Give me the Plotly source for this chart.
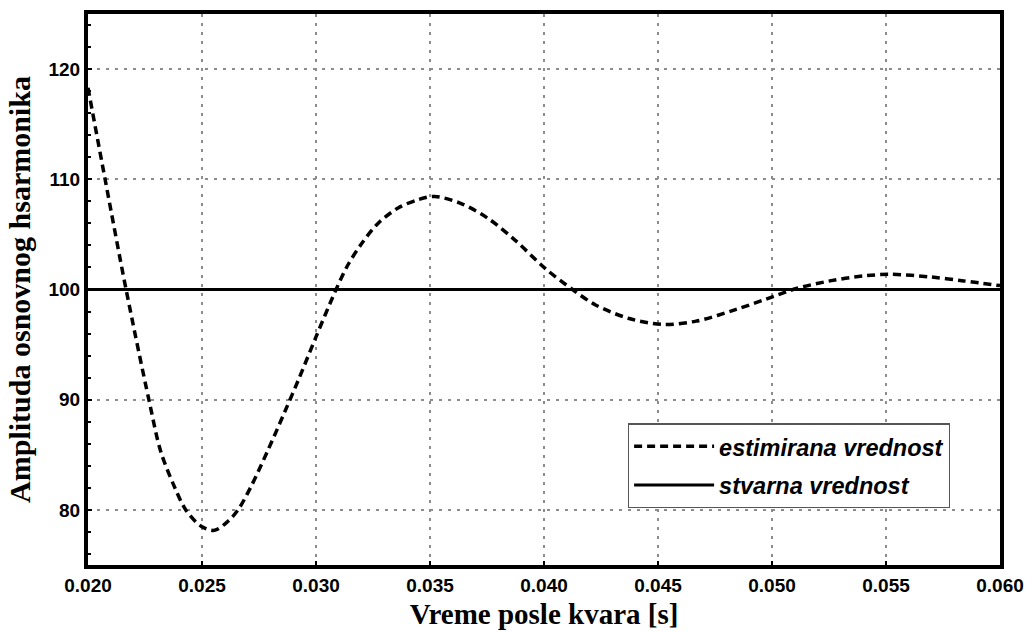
import plotly.graph_objects as go

# Estimated amplitude of the fundamental harmonic
t_est = [0.0200, 0.02075, 0.02167, 0.02267, 0.02319, 0.02377, 0.02429, 0.02496,
         0.02555, 0.02614, 0.02658, 0.02717, 0.02791, 0.02864, 0.02923, 0.0300,
         0.03088, 0.03139, 0.03198, 0.03272, 0.0336, 0.03448, 0.03521, 0.03639,
         0.03756, 0.03874, 0.04006, 0.04125, 0.04226, 0.04373, 0.0452, 0.04667,
         0.04843, 0.0501, 0.05107, 0.05254, 0.05401, 0.05518, 0.05695, 0.05841,
         0.0600]
a_est = [118.3, 110.0, 100.0, 90.0, 85.3, 82.2, 80.0, 78.52,
         78.15, 78.97, 80.0, 82.2, 85.5, 88.95, 91.8, 95.7,
         100.0, 102.2, 104.1, 106.0, 107.4, 108.15, 108.44, 107.78,
         106.43, 104.46, 101.9, 100.0, 98.6, 97.37, 96.83, 97.13,
         98.19, 99.39, 100.09, 100.78, 101.23, 101.38, 101.14, 100.78,
         100.35]

# True value
t_true = [0.020, 0.060]
a_true = [100, 100]

x_ticks = [0.020, 0.025, 0.030, 0.035, 0.040, 0.045, 0.050, 0.055, 0.060]
x_ticklabels = ["0.020", "0.025", "0.030", "0.035", "0.040", "0.045", "0.050", "0.055", "0.060"]
y_ticks = [80, 90, 100, 110, 120]

fig = go.Figure()
fig.add_trace(go.Scatter(
    x=t_true, y=a_true, mode="lines", name="stvarna vrednost",
    legendgroup="b", legendrank=2,
    line=dict(color="black", width=3)))
fig.add_trace(go.Scatter(
    x=t_est, y=a_est, mode="lines", name="estimirana vrednost",
    legendgroup="a", legendrank=1,
    line=dict(color="black", width=3.5, dash="8px,5px", shape="spline", smoothing=0.9)))

axis_common = dict(
    showline=True, linecolor="black", linewidth=4, mirror=True,
    showgrid=True, gridcolor="#8c8c8c", gridwidth=1.5, griddash="3px,6px",
    zeroline=False, ticks="inside", ticklen=4, tickwidth=2, tickcolor="black",
    automargin=False,
    tickfont=dict(family="Liberation Sans", size=19, color="black", weight="bold"),
)

fig.update_xaxes(
    range=[0.020, 0.060], tickvals=x_ticks, ticktext=x_ticklabels,
    title=dict(text="Vreme posle kvara [s]", standoff=10,
               font=dict(family="Liberation Serif", size=29, color="black", weight="bold")),
    **axis_common)
fig.update_yaxes(
    range=[75, 125], tickvals=y_ticks,
    minor=dict(dtick=2, ticks="inside", ticklen=3, tickwidth=2, tickcolor="black", showgrid=False),
    title=dict(text="Amplituda osnovnog hsarmonika", standoff=10,
               font=dict(family="Liberation Serif", size=30, color="black", weight="bold")),
    **axis_common)

fig.update_layout(
    width=1028, height=632,
    margin=dict(l=88, r=28, t=14, b=67),
    paper_bgcolor="white", plot_bgcolor="white",
    showlegend=True,
    legend=dict(
        x=0.592, y=0.257, xanchor="left", yanchor="top",
        bgcolor="white", bordercolor="#555555", borderwidth=1.2,
        traceorder="grouped", tracegroupgap=5, itemwidth=80,
        font=dict(family="Liberation Sans", size=23.5, color="black", style="italic", weight="bold"),
    ),
)

fig.write_html("out.html")
